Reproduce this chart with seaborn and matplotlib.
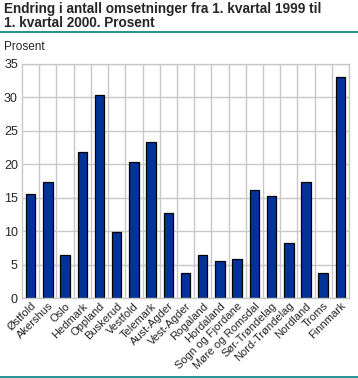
"""
Endring i antall omsetninger, fylkesvis
"""

import matplotlib.pyplot as plt
import numpy as np
import pandas as pd
import seaborn as sns
from matplotlib.lines import Line2D

fylker = [
    "Østfold", "Akershus", "Oslo", "Hedmark", "Oppland", "Buskerud",
    "Vestfold", "Telemark", "Aust-Agder", "Vest-Agder", "Rogaland",
    "Hordaland", "Sogn og Fjordane", "Møre og Romsdal", "Sør-Trøndelag",
    "Nord-Trøndelag", "Nordland", "Troms", "Finnmark",
]
endring = [15.5, 17.3, 6.5, 21.8, 30.3, 9.8, 20.3, 23.3, 12.7, 3.8,
           6.4, 5.6, 5.9, 16.1, 15.3, 8.2, 17.3, 3.7, 33.1]
yticks = [0, 5, 10, 15, 20, 25, 30, 35]

df = pd.DataFrame({"fylke": fylker, "endring": endring})

sns.set_style("white")
plt.rcParams["font.family"] = ["Liberation Sans", "DejaVu Sans"]

fig = plt.figure(figsize=(3.58, 3.78), dpi=100)
ax = fig.add_axes([0.0615, 0.2116, 0.9135, 0.6191])

sns.barplot(data=df, x="fylke", y="endring", color="#003399",
            saturation=1, edgecolor="black", linewidth=0.9, width=0.55, ax=ax)

ax.set_xlim(-0.5, len(fylker) - 0.5)
ax.set_ylim(0, 35)
ax.set_yticks(yticks)
ax.set_yticklabels([str(t) for t in yticks], fontsize=9)
ax.set_xticks(np.arange(len(fylker)) + 0.5, minor=True)
ax.set_xticklabels(fylker, rotation=45, ha="right", rotation_mode="anchor", fontsize=8)
ax.tick_params(axis="x", which="both", length=0, pad=2)
ax.tick_params(axis="y", length=0, pad=3)
ax.grid(axis="y", color="#c8c8c8", linewidth=1)
ax.grid(axis="x", which="minor", color="#c8c8c8", linewidth=1)
ax.set_axisbelow(True)
for s in ax.spines.values():
    s.set_color("#c8c8c8")
    s.set_linewidth(1)
ax.set_xlabel("")
ax.set_ylabel("")

fig.text(0.012, 0.995, "Endring i antall omsetninger fra 1. kvartal 1999 til\n1. kvartal 2000. Prosent",
         fontsize=9.8, fontweight="bold", va="top", ha="left", linespacing=1.0)
fig.add_artist(Line2D([0, 1], [0.915, 0.915], color="#008080", linewidth=1.2))
fig.add_artist(Line2D([0, 1], [0.003, 0.003], color="#008080", linewidth=1.2))
fig.text(0.012, 0.875, "Prosent", fontsize=8.5, va="center", ha="left")

fig.savefig("out.png", dpi=100)
